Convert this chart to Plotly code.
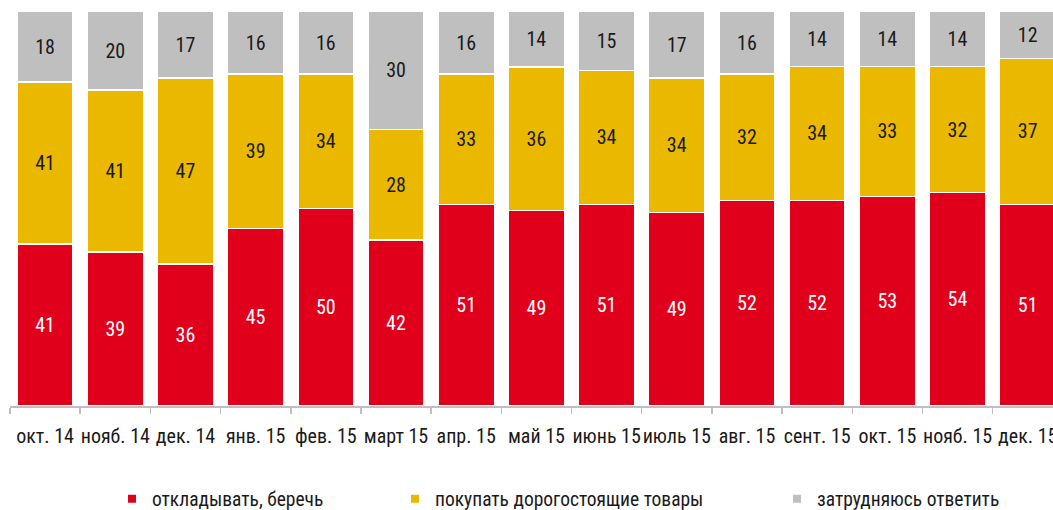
import plotly.graph_objects as go

categories = ["окт. 14", "нояб. 14", "дек. 14", "янв. 15", "фев. 15", "март 15", "апр. 15",
              "май 15", "июнь 15", "июль 15", "авг. 15", "сент. 15", "окт. 15", "нояб. 15", "дек. 15"]
save = [41, 39, 36, 45, 50, 42, 51, 49, 51, 49, 52, 52, 53, 54, 51]
buy = [41, 41, 47, 39, 34, 28, 33, 36, 34, 34, 32, 34, 33, 32, 37]
hard = [18, 20, 17, 16, 16, 30, 16, 14, 15, 17, 16, 14, 14, 14, 12]

names = ["откладывать, беречь", "покупать дорогостоящие товары", "затрудняюсь ответить"]
colors = ["#E0001B", "#EBB800", "#BFBFBF"]
text_colors = ["#FFFFFF", "#1A1A1A", "#1A1A1A"]
series = [save, buy, hard]

FONT = "Roboto Condensed, DejaVu Sans Condensed, sans-serif"

fig = go.Figure()
for vals, name, col, tcol in zip(series, names, colors, text_colors):
    fig.add_trace(go.Bar(
        x=categories, y=vals, name=name, showlegend=False,
        marker=dict(color=col, line=dict(color="#FFFFFF", width=1.5)),
        text=[str(v) for v in vals], textposition="inside", insidetextanchor="middle",
        textangle=0, textfont=dict(family=FONT, size=20, color=tcol),
        hoverinfo="skip",
    ))

legend_ids = ["legend", "legend2", "legend3"]
legend_left_px = [112, 395, 777]
for name, col, lid in zip(names, colors, legend_ids):
    fig.add_trace(go.Scatter(
        x=[None], y=[None], mode="markers", name=name, legend=lid,
        marker=dict(symbol="square", size=8, color=col),
    ))

layout_legends = {}
for lid, lx in zip(legend_ids, legend_left_px):
    layout_legends[lid] = dict(
        x=lx / 1053, y=11 / 510, xref="container", yref="container",
        xanchor="left", yanchor="middle", orientation="h",
        font=dict(family=FONT, size=19.5, color="#1A1A1A"), bgcolor="rgba(0,0,0,0)",
        itemwidth=30, borderwidth=0,
    )

fig.update_layout(
    width=1053, height=510,
    margin=dict(l=10, r=0, t=11, b=104, autoexpand=False),
    barmode="stack", barnorm="percent", bargap=0.2,
    plot_bgcolor="white", paper_bgcolor="white",
    font=dict(family=FONT, size=20, color="#1A1A1A"),
    uniformtext=dict(mode="show", minsize=10),
    **layout_legends,
)
fig.update_xaxes(
    type="category", range=[-0.5, 14.36], automargin=False, tickangle=0,
    showline=True, linecolor="#BFBFBF", linewidth=2,
    ticks="outside", tickson="boundaries", ticklen=6, tickcolor="#BFBFBF", tickwidth=1.5,
    tickfont=dict(family=FONT, size=20, color="#1A1A1A"), ticklabelstandoff=11,
    showgrid=False, zeroline=False, fixedrange=True,
)
fig.update_yaxes(
    range=[0, 100], visible=False, showgrid=False, zeroline=False, fixedrange=True,
)

fig.write_html(
    "out.html",
    config={"displayModeBar": False, "staticPlot": True},
    post_script="document.body.style.margin='0';document.body.style.overflow='hidden';",
)
